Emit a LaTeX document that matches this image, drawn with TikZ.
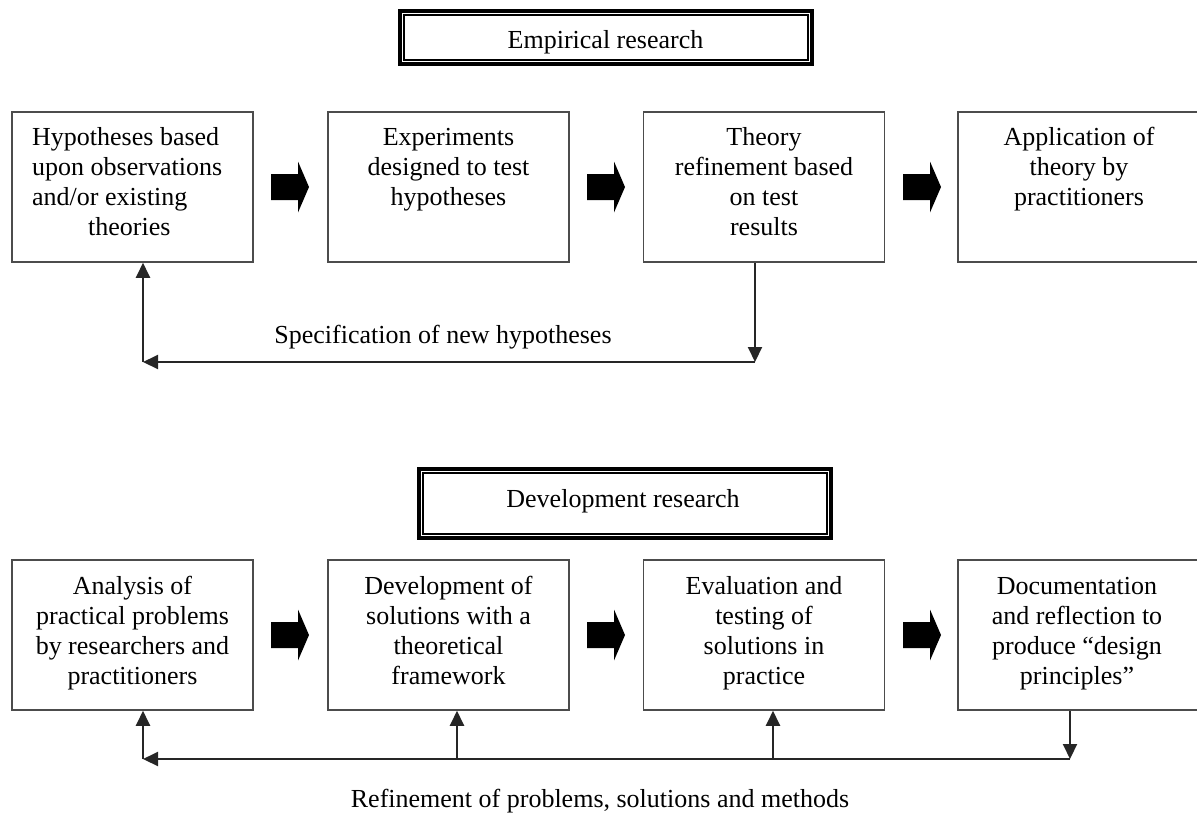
\documentclass[tikz,border=0pt]{standalone}
\usepackage{fontspec}
\setmainfont{Liberation Serif}
\usetikzlibrary{arrows.meta,calc}
\tikzset{
  box/.style={draw=black!70, line width=1.5pt, minimum width=241pt, minimum height=150pt, inner sep=0pt, fill=white},
  txt/.style={font=\fontsize{26}{30}\selectfont, align=center, inner sep=0pt},
  lbl/.style={font=\fontsize{26}{30}\selectfont, inner sep=0pt},
  titlebox/.style={draw=black, line width=4pt, inner sep=0pt, fill=white},
  conn/.style={draw=black!85, line width=2pt, -{Triangle[length=15pt,width=14pt]}},
  blockarrow/.pic={\fill[black] (0,-13) -- (27,-13) -- (27,-25.5) -- (38,0) -- (27,25.5) -- (27,13) -- (0,13) -- cycle;}
}
\begin{document}
\begin{tikzpicture}[x=1pt,y=-1pt]
\useasboundingbox (0,0) rectangle (1197,815);
% titles
\node[titlebox, minimum width=412.5pt, minimum height=53.5pt] (T1) at (605.75,37.25) {};
\draw[line width=2pt] ($(T1.north west)+(6pt,-6pt)$) rectangle ($(T1.south east)+(-6pt,6pt)$);
\node[lbl, anchor=base] (T1t) at (605.5,48) {Empirical research};
\node[titlebox, minimum width=411.7pt, minimum height=69pt] (T2) at (624.7,503.3) {};
\draw[line width=2pt] ($(T2.north west)+(6pt,-6pt)$) rectangle ($(T2.south east)+(-6pt,6pt)$);
\node[lbl, anchor=base] (T2t) at (623,507) {Development research};
% top row boxes
\node[box] (a1) at (132.5,187) {};
\node[box] (a2) at (448.5,187) {};
\node[box] (a3) at (764,187) {};
\node[box] (a4) at (1078.5,187) {};
% (base anchor of a multi-line text = baseline of its last line)
\node[txt, align=left, anchor=base west] (at1) at (32,235) {Hypotheses based\\upon observations\\and/or existing\\\hspace*{56pt}theories};
\node[txt, anchor=base] (at2) at (448.5,205) {Experiments\\designed to test\\hypotheses};
\node[txt, anchor=base] (at3) at (764,235) {Theory\\refinement based\\on test\\results};
\node[txt, anchor=base] (at4) at (1079,205) {Application of\\theory by\\practitioners};
% bottom row boxes
\node[box] (b1) at (132.5,635) {};
\node[box] (b2) at (448.5,635) {};
\node[box] (b3) at (764,635) {};
\node[box] (b4) at (1078.5,635) {};
\node[txt, anchor=base] (bt1) at (132.5,684) {Analysis of\\practical problems\\by researchers and\\practitioners};
\node[txt, anchor=base] (bt2) at (448.5,684) {Development of\\solutions with a\\theoretical\\framework};
\node[txt, anchor=base] (bt3) at (764,684) {Evaluation and\\testing of\\solutions in\\practice};
\node[txt, anchor=base] (bt4) at (1077,684) {Documentation\\and reflection to\\produce “design\\principles”};
% block arrows
\pic at (271,187) {blockarrow};
\pic at (587,187) {blockarrow};
\pic at (903,187) {blockarrow};
\pic at (271,635) {blockarrow};
\pic at (587,635) {blockarrow};
\pic at (903,635) {blockarrow};
% top feedback loop
\coordinate (c1) at (143,362);
\coordinate (c3) at (755,362);
\draw[conn] (c3 |- a3.south) -- (c3);
\draw[conn] (c3) -- (c1);
\draw[conn] (c1) -- (c1 |- a1.south);
\node[lbl, anchor=base] (L1) at (443,343) {Specification of new hypotheses};
% bottom feedback loop
\coordinate (d1) at (143,759);
\coordinate (d2) at (457,759);
\coordinate (d3) at (773,759);
\coordinate (d4) at (1070,759);
\draw[conn] (d4 |- b4.south) -- (d4);
\draw[conn] (d4) -- (d1);
\draw[conn] (d1) -- (d1 |- b1.south);
\draw[conn] (d2) -- (d2 |- b2.south);
\draw[conn] (d3) -- (d3 |- b3.south);
\node[lbl, anchor=base] (L2) at (600,807) {Refinement of problems, solutions and methods};
\end{tikzpicture}
\end{document}
